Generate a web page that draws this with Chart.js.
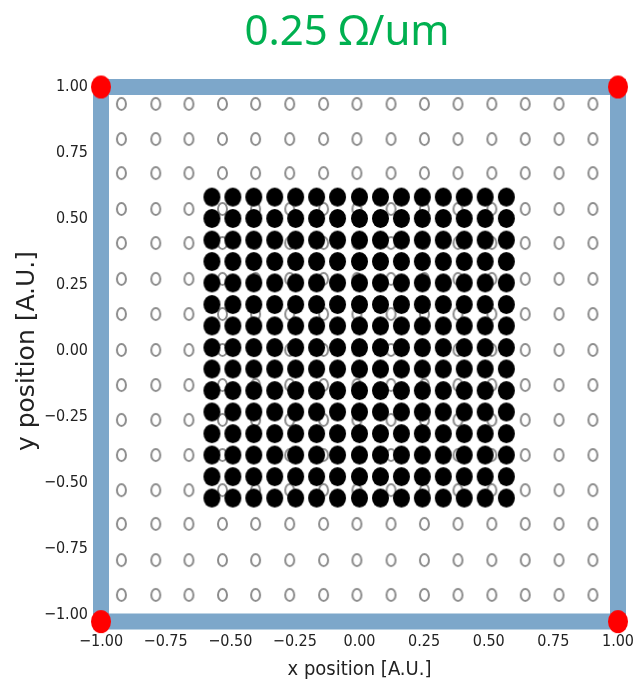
<!DOCTYPE html>
<html>
<head>
<meta charset="utf-8">
<script src="https://cdn.jsdelivr.net/npm/chart.js@4.4.1/dist/chart.umd.min.js"></script>
<style>
  body { margin: 0; background: #fff; }
</style>
</head>
<body>
<canvas id="sheetChart" width="633" height="688"></canvas>
<script>
// values
const titleText = '0.25 Ω/um';
const ringX = [-0.921, -0.788, -0.66, -0.53, -0.402, -0.27, -0.139, -0.01, 0.122, 0.251, 0.381, 0.512, 0.641, 0.772, 0.903];
const ringY = [0.936, 0.803, 0.674, 0.538, 0.409, 0.273, 0.14, 0.004, -0.129, -0.261, -0.394, -0.527, -0.655, -0.792, -0.924];
const blobX = [-0.571, -0.49, -0.409, -0.328, -0.247, -0.166, -0.085, 0, 0.081, 0.162, 0.243, 0.324, 0.405, 0.486, 0.568];
const blobY = [0.583, 0.502, 0.42, 0.339, 0.258, 0.176, 0.095, 0.013, -0.068, -0.15, -0.231, -0.313, -0.394, -0.476, -0.557];
const frameX = [-1, 1, 1, -1, -1];
const frameY = [1, 1, -1.025, -1.025, 1];
const cornerX = [-1, 1, -1, 1];
const cornerY = [1, 1, -1.025, -1.025];
const tickValues = [-1, -0.75, -0.5, -0.25, 0, 0.25, 0.5, 0.75, 1];

function ellipseSprite(w, h, fill, stroke, lw) {
    const c = document.createElement('canvas');
    c.width = w + 4;
    c.height = h + 4;
    const g = c.getContext('2d');
    g.beginPath();
    g.ellipse(c.width / 2, c.height / 2, w / 2, h / 2, 0, 0, Math.PI * 2);
    if (fill) { g.fillStyle = fill; g.fill(); }
    if (stroke) { g.lineWidth = lw; g.strokeStyle = stroke; g.stroke(); }
    return c;
}

function grid(xs, ys) {
    const pts = [];
    ys.forEach(y => xs.forEach(x => pts.push({ x: x, y: y })));
    return pts;
}

function zip(xs, ys) {
    return xs.map((x, i) => ({ x: x, y: ys[i] }));
}

function fmt(v) {
    return Number(v).toFixed(2).replace('-', '\u2212');
}

const tickFont = { family: "'DejaVu Sans Condensed', 'DejaVu Sans'", size: 16 };

const titlePlugin = {
    id: 'topTitle',
    afterDraw(chart) {
        const ctx = chart.ctx;
        ctx.save();
        ctx.font = '42px "Noto Sans"';
        ctx.fillStyle = '#00b050';
        ctx.textAlign = 'center';
        ctx.textBaseline = 'alphabetic';
        ctx.fillText(titleText, 347, 45);
        ctx.restore();
    }
};

const ctx = document.getElementById('sheetChart').getContext('2d');
new Chart(ctx, {
    type: 'scatter',
    data: {
        datasets: [
            {
                label: 'corners',
                data: zip(cornerX, cornerY),
                pointStyle: ellipseSprite(20, 23, '#ff0000'),
                pointRadius: 14,
                clip: false,
                order: 0
            },
            {
                label: 'frame',
                data: zip(frameX, frameY),
                showLine: true,
                borderColor: '#7da7ca',
                borderWidth: 16,
                borderCapStyle: 'butt',
                borderJoinStyle: 'miter',
                pointRadius: 0,
                clip: false,
                order: 1
            },
            {
                label: 'final',
                data: grid(blobX, blobY),
                pointStyle: ellipseSprite(17, 19, '#000000'),
                clip: false,
                order: 2
            },
            {
                label: 'initial',
                data: grid(ringX, ringY),
                pointStyle: ellipseSprite(9, 12, null, '#8c8c8c', 2),
                clip: false,
                order: 3
            }
        ]
    },
    options: {
        responsive: false,
        animation: false,
        layout: { padding: { top: 87, right: 14, left: 0, bottom: 0 } },
        plugins: {
            legend: { display: false },
            tooltip: { enabled: false }
        },
        scales: {
            x: {
                type: 'linear',
                min: -1,
                max: 1,
                afterFit: s => { s.height = 688 - 615; s.paddingLeft = 0; s.paddingRight = 0; },
                afterBuildTicks: s => { s.ticks = tickValues.map(v => ({ value: v })); },
                grid: { drawOnChartArea: false, tickLength: 5, color: '#222' },
                border: { display: false },
                ticks: { font: tickFont, color: '#222', padding: 12, maxRotation: 0, callback: fmt },
                title: {
                    display: true,
                    text: 'x position [A.U.]',
                    font: { family: "'DejaVu Sans Condensed', 'DejaVu Sans'", size: 20 },
                    color: '#222',
                    padding: { top: 0, bottom: 6 }
                }
            },
            y: {
                type: 'linear',
                min: -1,
                max: 1,
                afterFit: s => { s.width = 101; s.paddingTop = 0; s.paddingBottom = 0; },
                afterBuildTicks: s => { s.ticks = tickValues.map(v => ({ value: v })); },
                grid: { drawOnChartArea: false, tickLength: 5, color: '#222' },
                border: { display: false },
                ticks: { font: tickFont, color: '#222', padding: 8, callback: fmt },
                title: {
                    display: true,
                    text: 'y position [A.U.]',
                    font: { family: "'DejaVu Sans'", size: 25 },
                    color: '#222',
                    padding: { top: 12, bottom: 0 }
                }
            }
        }
    },
    plugins: [titlePlugin]
});
</script>
</body>
</html>
